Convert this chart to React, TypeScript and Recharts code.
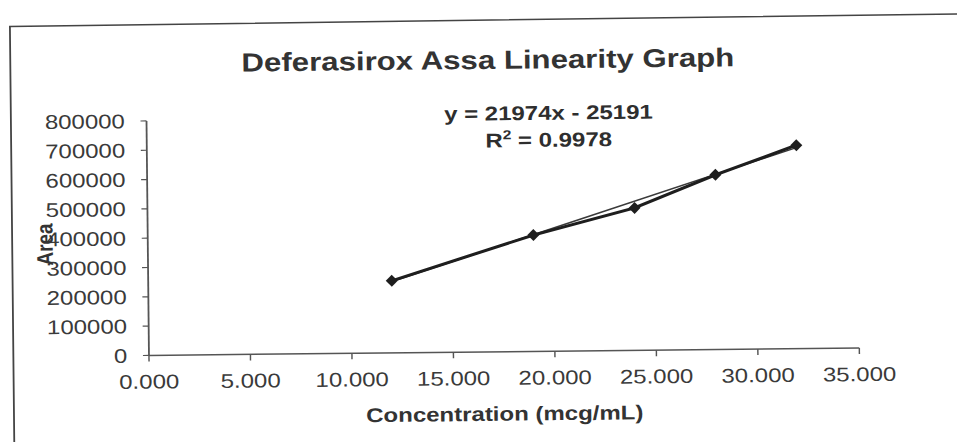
import React from "react";
import { ComposedChart, Line, XAxis, YAxis } from "recharts";

// values
const concentration = [12, 19, 24, 28, 32];
const area = [246000, 397000, 486000, 596000, 694000];

// linear trendline ends, as they sit on the picture
const trendConcentration = [12, 32];
const trendArea = [243000, 686000];

const xTicks = [0, 5, 10, 15, 20, 25, 30, 35];
const yTicks = [0, 100000, 200000, 300000, 400000, 500000, 600000, 700000, 800000];

const chartTitle = "Deferasirox Assa Linearity Graph";
const equationText = "y = 21974x - 25191";
const rSquaredValue = "0.9978";
const xLabel = "Concentration (mcg/mL)";
const yLabel = "Area";

const points = concentration.map((c, i) => ({ conc: c, area: area[i] }));
const trend = trendConcentration.map((c, i) => ({ conc: c, area: trendArea[i] }));

const FONT = "'Liberation Sans', Arial, sans-serif";
const W = 798;
const H = 442;

// small filled diamond like Excel's marker
const Diamond = (props: any) => {
    const { cx, cy } = props;
    if (cx == null || cy == null) return null;
    const r = 5;
    return (
        <polygon
            points={`${cx},${cy - r - 1} ${cx + r},${cy} ${cx},${cy + r + 1} ${cx - r},${cy}`}
            fill="#1e1e1e"
        />
    );
};

export default function App() {
    return (
        <div style={{ position: "fixed", left: 0, top: 0, width: 957, height: 442, overflow: "hidden", background: "#fff" }}>
            {/* the scan is a bit stretched sideways and tilted */}
            <div
                style={{
                    position: "absolute",
                    left: 0,
                    top: 0,
                    width: W,
                    height: H,
                    transformOrigin: "0 221px",
                    transform: "translateY(5px) rotate(-0.6deg) scaleX(1.2)",
                }}
            >
                <ComposedChart width={W} height={H} margin={{ top: 117.5, right: 83, bottom: 10, left: 63 }}>
                    <XAxis
                        type="number"
                        dataKey="conc"
                        domain={[0, 35]}
                        ticks={xTicks}
                        interval={0}
                        height={80}
                        tickFormatter={(v: number) => v.toFixed(3)}
                        tick={{ fontSize: 20, fill: "#3a3a3a", fontFamily: FONT }}
                        tickSize={6}
                        tickMargin={13}
                        axisLine={{ stroke: "#555", strokeWidth: 1.5 }}
                        tickLine={{ stroke: "#555", strokeWidth: 1.2 }}
                        label={{
                            value: xLabel,
                            position: "insideBottom",
                            offset: 11,
                            style: { fontSize: 20, fontWeight: "bold", fill: "#333", fontFamily: FONT },
                        }}
                    />
                    <YAxis
                        type="number"
                        dataKey="area"
                        domain={[0, 800000]}
                        ticks={yTicks}
                        interval={0}
                        width={60}
                        tick={{ fontSize: 20, fill: "#3a3a3a", fontFamily: FONT }}
                        tickSize={5}
                        tickMargin={13}
                        axisLine={{ stroke: "#555", strokeWidth: 1.5 }}
                        tickLine={{ stroke: "#555", strokeWidth: 1.2 }}
                    />
                    <Line
                        data={trend}
                        dataKey="area"
                        stroke="#3a3a3a"
                        strokeWidth={1.5}
                        dot={false}
                        isAnimationActive={false}
                    />
                    <Line
                        data={points}
                        dataKey="area"
                        stroke="#1e1e1e"
                        strokeWidth={3}
                        dot={<Diamond />}
                        isAnimationActive={false}
                    />
                </ComposedChart>
                <svg
                    width={W}
                    height={H}
                    style={{ position: "absolute", left: 0, top: 0, pointerEvents: "none", overflow: "visible" }}
                    fontFamily={FONT}
                >
                    {/* frame of the scanned page: left and top edges only are in view */}
                    <path d="M 10 520 L 10 21.5 L 810 19" fill="none" stroke="#444" strokeWidth={1.5} />
                    <text x={408} y={69} textAnchor="middle" fontSize={26} fontWeight="bold" fill="#333">
                        {chartTitle}
                    </text>
                    <text x={458} y={120.5} textAnchor="middle" fontSize={20} fontWeight="bold" fill="#2e2e2e">
                        {equationText}
                    </text>
                    <text x={458} y={147.5} textAnchor="middle" fontSize={20} fontWeight="bold" fill="#2e2e2e">
                        R<tspan fontSize={13} dy={-8}>2</tspan>
                        <tspan dy={8}>{` = ${rSquaredValue}`}</tspan>
                    </text>
                    <text
                        x={37}
                        y={240}
                        transform="rotate(-90 37 240)"
                        textAnchor="middle"
                        dominantBaseline="central"
                        fontSize={19}
                        fontWeight="bold"
                        fill="#333"
                    >
                        {yLabel}
                    </text>
                </svg>
            </div>
        </div>
    );
}
